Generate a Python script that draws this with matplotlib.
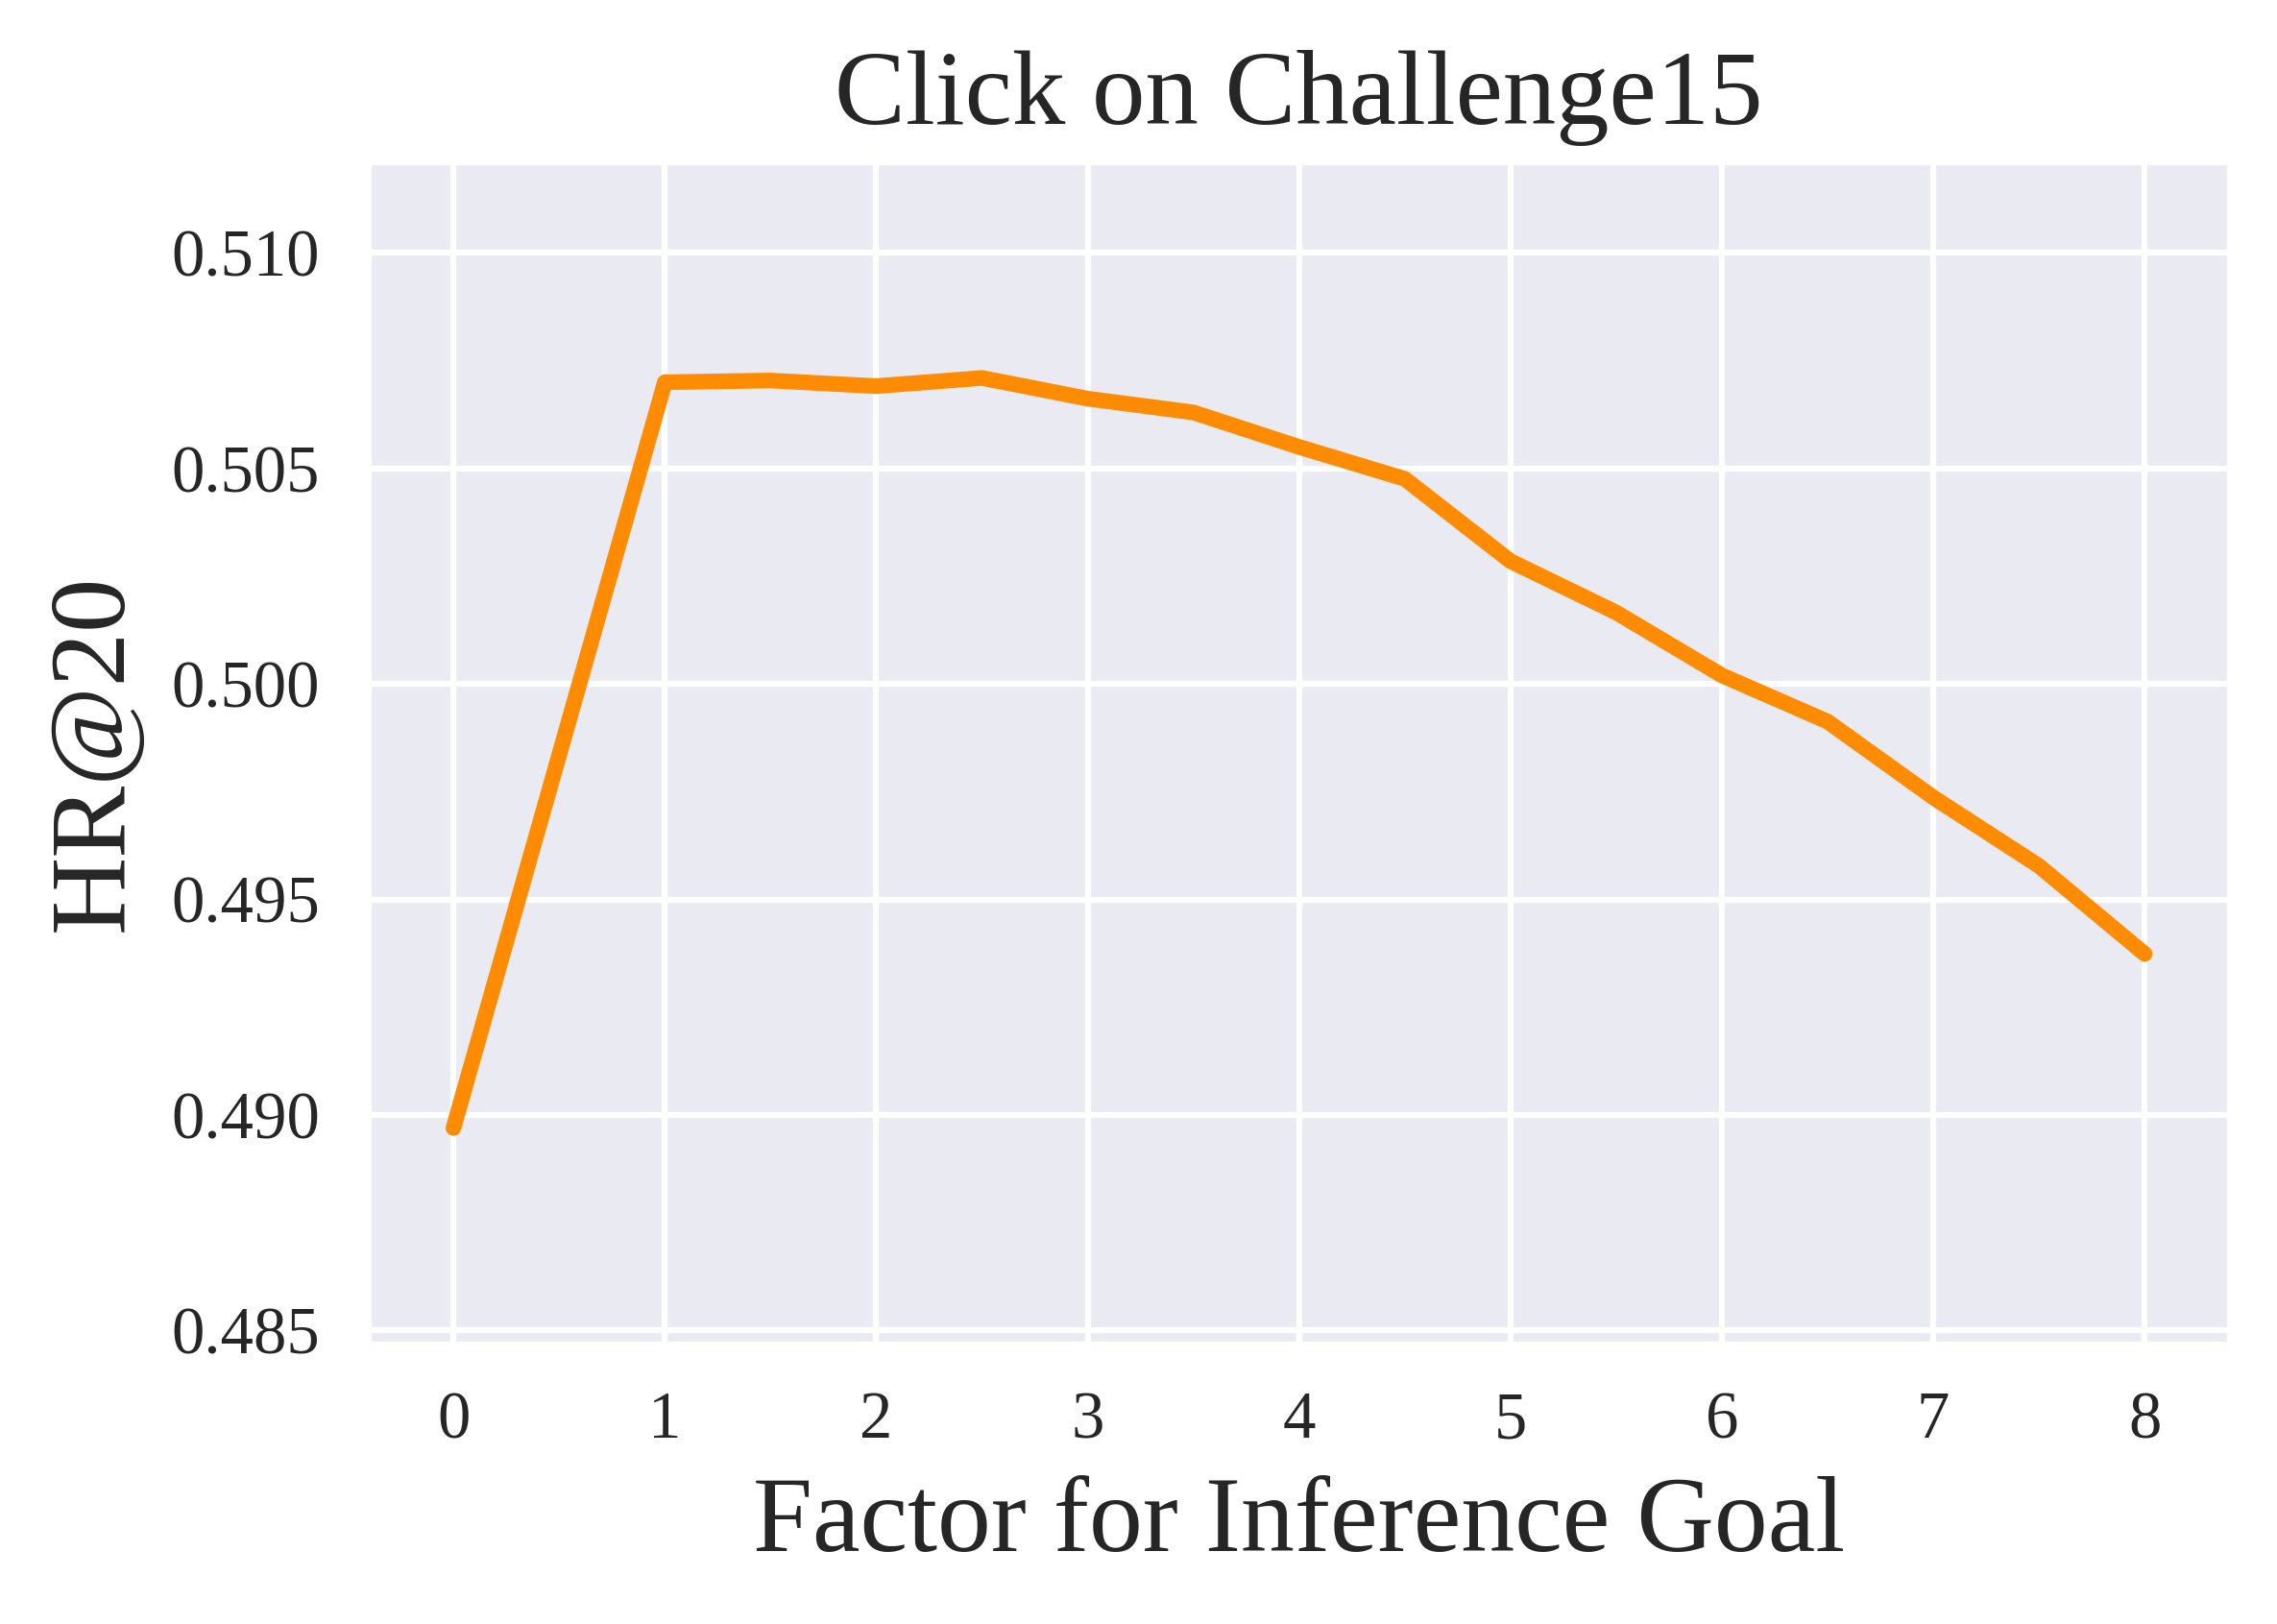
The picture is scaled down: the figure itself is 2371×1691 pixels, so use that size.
import matplotlib
matplotlib.use("Agg")
import matplotlib.pyplot as plt
import seaborn as sns

# factor values and HR@20
factors = [0, 1, 1.5, 2, 2.5, 3, 3.5, 4, 4.5, 5, 5.5, 6, 6.5, 7, 7.5, 8]
hr20 = [0.4897, 0.5070, 0.50704, 0.50691, 0.50710, 0.50662, 0.50630, 0.50550,
        0.50476, 0.50285, 0.50166, 0.50020, 0.49913, 0.49737, 0.49578, 0.49374]
yticks = [0.485, 0.490, 0.495, 0.500, 0.505, 0.510]
xticks = list(range(9))

sns.set_theme(style="darkgrid")
plt.rcParams['font.family'] = ['Liberation Serif', 'DejaVu Serif']

fig = plt.figure(figsize=(2371 / 300, 1691 / 300), dpi=300)
ax = fig.add_axes([0.162, 0.1727, 0.817, 0.7273])

ax.plot(factors, hr20, color="#ff8c00", linewidth=3.9, solid_capstyle="round")

ax.set_xticks(xticks)
ax.set_yticks(yticks)
ax.set_yticklabels([f"{v:.3f}" for v in yticks])
ax.set_ylim(0.4847, 0.5121)
ax.tick_params(axis="both", labelsize=16.5, length=0, colors="#262626")
ax.tick_params(axis="y", pad=12.3)
ax.tick_params(axis="x", pad=12)
ax.grid(True, color="white", linewidth=1.5)

ax.set_title("Click on Challenge15", fontsize=26.6, pad=9.6, color="#262626")
ax.set_xlabel("Factor for Inference Goal", fontsize=26.8, labelpad=6, color="#262626")
ax.set_ylabel("HR@20", fontsize=27, labelpad=6.5, color="#262626")

fig.savefig("out.png", dpi=300)
